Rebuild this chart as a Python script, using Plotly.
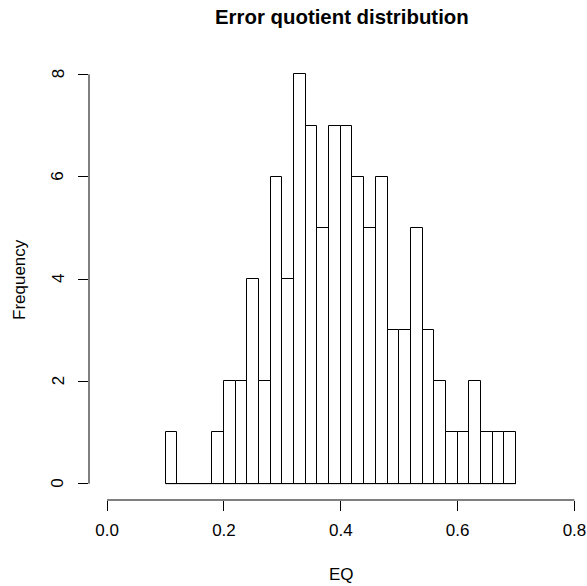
import plotly.graph_objects as go

# Histogram data (bins of width 0.02 from 0.10 to 0.70)
bin_starts = [0.10, 0.12, 0.14, 0.16, 0.18, 0.20, 0.22, 0.24, 0.26, 0.28,
              0.30, 0.32, 0.34, 0.36, 0.38, 0.40, 0.42, 0.44, 0.46, 0.48,
              0.50, 0.52, 0.54, 0.56, 0.58, 0.60, 0.62, 0.64, 0.66, 0.68]
counts = [1, 0, 0, 0, 1, 2, 2, 4, 2, 6,
          4, 8, 7, 5, 7, 7, 6, 5, 6, 3,
          3, 5, 3, 2, 1, 1, 2, 1, 1, 1]
bin_width = 0.02
x_ticks = [0.0, 0.2, 0.4, 0.6, 0.8]
x_tick_labels = ["0.0", "0.2", "0.4", "0.6", "0.8"]
y_ticks = [0, 2, 4, 6, 8]
y_tick_labels = ["0", "2", "4", "6", "8"]

centers = [b + bin_width / 2 for b in bin_starts]

fig = go.Figure()
fig.add_trace(go.Bar(
    x=centers, y=counts, width=[bin_width] * len(counts),
    marker=dict(color="white", line=dict(color="black", width=1)),
    hoverinfo="x+y", showlegend=False,
))

font = "Liberation Sans, Arial, Helvetica, sans-serif"
L, T, B = 89, 58, 86
PW, PH = 587 - L, 586 - T - B

annotations = [
    dict(text="<b>Error quotient distribution</b>", xref="paper", yref="paper",
         x=(342 - L) / PW, y=(586 - B - 17) / PH, xanchor="center", yanchor="middle",
         showarrow=False, font=dict(size=20.4, family=font)),
    dict(text="EQ", xref="paper", yref="paper", x=(341.3 - L) / PW, y=-(574 - (586 - B)) / PH,
         xanchor="center", yanchor="middle", showarrow=False, font=dict(size=17, family=font)),
    dict(text="Frequency", xref="paper", yref="paper", x=-(L - 19) / PW, y=((586 - B) - 280) / PH,
         xanchor="center", yanchor="middle", textangle=-90, showarrow=False,
         font=dict(size=17, family=font)),
]
for v, t in zip(y_ticks, y_tick_labels):
    annotations.append(dict(text=t, xref="paper", yref="y", x=-(L - 58) / PW, y=v,
                            xanchor="center", yanchor="middle", textangle=-90,
                            showarrow=False, font=dict(size=17, family=font)))

fig.update_layout(
    width=587, height=586,
    margin=dict(l=L, r=0, t=T, b=B),
    paper_bgcolor="white", plot_bgcolor="white",
    font=dict(family=font, size=17, color="black"),
    bargap=0,
    xaxis=dict(range=[-0.031, 0.8215], tickvals=x_ticks, ticktext=x_tick_labels,
               ticks="outside", ticklen=10, tickcolor="black", tickwidth=1,
               showline=False, showgrid=False, zeroline=False,
               ticklabelstandoff=5, tickfont=dict(size=17)),
    yaxis=dict(range=[-0.32, 8.32], tickvals=y_ticks, showticklabels=False,
               ticks="outside", ticklen=10, tickcolor="black", tickwidth=1,
               showline=False, showgrid=False, zeroline=False),
    shapes=[
        dict(type="line", xref="x", yref="paper", x0=x_ticks[0], x1=x_ticks[-1], y0=0, y1=0,
             line=dict(color="black", width=1)),
        dict(type="line", xref="paper", yref="y", x0=0, x1=0, y0=y_ticks[0], y1=y_ticks[-1],
             line=dict(color="black", width=1)),
        dict(type="line", xref="x", yref="y", x0=bin_starts[0], x1=bin_starts[-1] + bin_width,
             y0=0, y1=0, line=dict(color="black", width=1), layer="above"),
    ],
    annotations=annotations,
)

fig.write_html("out.html", config={"displayModeBar": False},
               post_script="document.body.style.margin='0';")
